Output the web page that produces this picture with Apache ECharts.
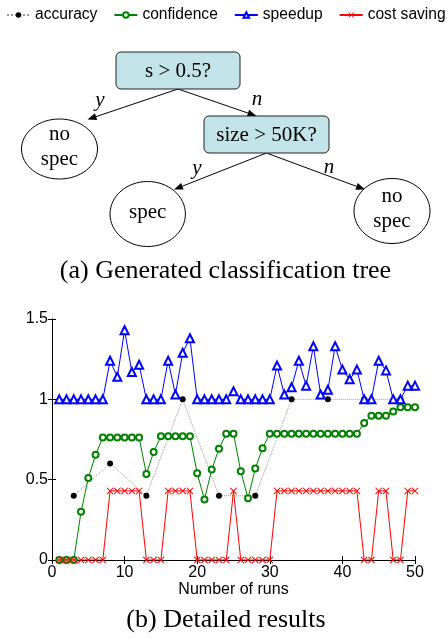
<!DOCTYPE html>
<html><head><meta charset="utf-8">
<script src="https://cdn.jsdelivr.net/npm/echarts@6/dist/echarts.min.js"></script>
<style>html,body{margin:0;padding:0;background:#fff}#c{width:447px;height:639px}</style>
</head><body><div id="c"></div>
<script>
// ---------- data ----------
const runs = Array.from({length: 50}, (_, i) => i + 1);
const speedup = [1,1,1,1,1,1,1, 1.24,1.14,1.43,1.17,1.215, 1,1,1, 1.24,1.03,1.29,1.38,
  1,1,1,1,1, 1.05, 1,1,1,1,1, 1.21,1.03,1.075,1.24,1.085,1.33,1.03,1.06,1.33,1.185,1.125,1.185,
  1,1, 1.24,1.18, 1,1, 1.085,1.085];
const confidence = [0,0,0, 0.30,0.51,0.655, 0.762,0.762,0.762,0.762,0.762,0.762, 0.535,0.672,
  0.77,0.77,0.77,0.77,0.77, 0.54,0.376,0.563,0.693,0.786,0.786,0.552,0.384,0.569,0.695,
  0.786,0.786,0.786,0.786,0.786,0.786,0.786,0.786,0.786,0.786,0.786,0.786,0.786,
  0.852,0.898,0.898,0.898,0.925,0.95,0.95,0.95];
const costSaving = [0,0,0,0,0,0,0, 0.43,0.43,0.43,0.43,0.43, 0,0,0, 0.43,0.43,0.43,0.43,
  0,0,0,0,0, 0.43, 0,0,0,0,0, 0.43,0.43,0.43,0.43,0.43,0.43,0.43,0.43,0.43,0.43,0.43,0.43,
  0,0, 0.43,0.43, 0,0, 0.43,0.43];
const accuracyRuns = [3,8,13,18,23,28,33,38,43,48];
const accuracy = [0.4,0.6,0.4,1.0,0.4,0.4,1.0,1.0,1.0,1.0];
const seriesNames = ['accuracy','confidence','speedup','cost saving'];
const xLabel = 'Number of runs';
const captionA = '(a) Generated classification tree';
const captionB = '(b) Detailed results';
// tree diagram content
const treeDecisions = ['s > 0.5?', 'size > 50K?'];
const treeLeaves = [['no','spec'], ['spec'], ['no','spec']];
const edgeLabels = ['y','n','y','n'];

// ---------- diagram layout ----------
const SERIF = '"Liberation Serif", "Times New Roman", serif';
const SANS = '"Liberation Sans", Arial, Helvetica, sans-serif';
const boxes = [
  {x: 116, y: 52, w: 124, h: 37},
  {x: 204, y: 116, w: 125, h: 37}
];
const ells = [
  {cx: 59.5, cy: 149, rx: 38, ry: 30},
  {cx: 147.7, cy: 214, rx: 37.7, ry: 32.5},
  {cx: 392, cy: 211, rx: 38, ry: 32.5}
];
const edges = [
  [178, 89, 87.5, 119.5], [178, 89, 256.5, 116],
  [266.5, 153, 174, 189.5], [266.5, 153, 365, 189.5]
];
const edgeLabelPos = [[100, 100], [257, 99], [197, 168], [329, 167]];

const g = [];
function arrow(x1, y1, x2, y2) {
  const dx = x2 - x1, dy = y2 - y1, L = Math.hypot(dx, dy);
  const ux = dx / L, uy = dy / L, hl = 9, hw = 3.5;
  const bx = x2 - ux * hl, by = y2 - uy * hl;
  g.push({type: 'line', shape: {x1, y1, x2: bx, y2: by}, style: {stroke: '#000', lineWidth: 1}});
  g.push({type: 'polygon', shape: {points: [[x2, y2], [bx - uy * hw, by + ux * hw], [bx + uy * hw, by - ux * hw]]},
    style: {fill: '#000'}});
}
edges.forEach(e => arrow(...e));
boxes.forEach((b, i) => {
  g.push({type: 'rect', shape: {x: b.x, y: b.y, width: b.w, height: b.h, r: 5},
    style: {fill: '#c2e3e7', stroke: '#222', lineWidth: 1}});
  g.push({type: 'text', style: {text: treeDecisions[i], x: b.x + b.w / 2, y: b.y + b.h / 2 + 1,
    textAlign: 'center', textVerticalAlign: 'middle', font: '21px ' + SERIF, fill: '#000'}});
});
ells.forEach((e, i) => {
  g.push({type: 'ellipse', shape: {cx: e.cx, cy: e.cy, rx: e.rx, ry: e.ry},
    style: {fill: '#fff', stroke: '#000', lineWidth: 1}});
  const lines = treeLeaves[i];
  const lh = 25;
  lines.forEach((t, k) => {
    g.push({type: 'text', style: {text: t, x: e.cx, y: e.cy + (k - (lines.length - 1) / 2) * lh - 2,
      textAlign: 'center', textVerticalAlign: 'middle', font: '21px ' + SERIF, fill: '#000'}});
  });
});
edgeLabels.forEach((t, i) => {
  g.push({type: 'text', style: {text: t, x: edgeLabelPos[i][0], y: edgeLabelPos[i][1],
    textAlign: 'center', textVerticalAlign: 'middle', font: 'italic 21px ' + SERIF, fill: '#000'}});
});
g.push({type: 'text', style: {text: captionA, x: 225.5, y: 271, textAlign: 'center', textVerticalAlign: 'middle',
  font: '26px ' + SERIF, fill: '#000'}});
g.push({type: 'text', style: {text: captionB, x: 226, y: 620, textAlign: 'center', textVerticalAlign: 'middle',
  font: '26px ' + SERIF, fill: '#000'}});

const xPath = 'path://M0,1L1,0L5,4L9,0L10,1L6,5L10,9L9,10L5,6L1,10L0,9L4,5Z';
const pairs = (xs, ys) => xs.map((x, i) => [x, ys[i]]);

const chart = echarts.init(document.getElementById('c'), null, {renderer: 'canvas'});
chart.setOption({
  animation: false,
  backgroundColor: '#fff',
  textStyle: {fontFamily: SANS},
  legend: {
    top: 7, left: 6, width: 441, padding: 0, itemWidth: 23, itemHeight: 7, itemGap: 16,
    textStyle: {fontSize: 15.6, color: '#000', fontFamily: SANS},
    data: seriesNames
  },
  grid: {left: 52, right: 32, top: 319, bottom: 79},
  xAxis: [{
    type: 'value', min: 0, max: 50, interval: 10, position: 'bottom',
    name: xLabel, nameLocation: 'middle', nameGap: 20,
    nameTextStyle: {fontSize: 16, color: '#000', fontFamily: SANS},
    axisLine: {show: true, lineStyle: {color: '#000', width: 1}},
    axisTick: {show: true, inside: true, length: 4, lineStyle: {color: '#000'}},
    axisLabel: {fontSize: 16, color: '#000', margin: 5, fontFamily: SANS},
    splitLine: {show: false}
  }, {
    type: 'value', min: 0, max: 50, interval: 10, position: 'top',
    axisLine: {show: true, lineStyle: {color: '#000', width: 1}},
    axisTick: {show: true, inside: true, length: 4, lineStyle: {color: '#000'}},
    axisLabel: {show: false}, splitLine: {show: false}
  }],
  yAxis: [{
    type: 'value', min: 0, max: 1.5, interval: 0.5, position: 'left',
    axisLine: {show: true, lineStyle: {color: '#000', width: 1}},
    axisTick: {show: true, inside: true, length: 4, lineStyle: {color: '#000'}},
    axisLabel: {fontSize: 16, color: '#000', margin: 4, fontFamily: SANS},
    splitLine: {show: false}
  }, {
    type: 'value', min: 0, max: 1.5, interval: 0.5, position: 'right',
    axisLine: {show: true, lineStyle: {color: '#000', width: 1}},
    axisTick: {show: true, inside: true, length: 4, lineStyle: {color: '#000'}},
    axisLabel: {show: false}, splitLine: {show: false}
  }],
  series: [{
    name: seriesNames[0], type: 'line', data: pairs(accuracyRuns, accuracy),
    symbol: 'circle', symbolSize: 6, itemStyle: {color: '#000'},
    lineStyle: {color: '#999', width: 1, type: 'dotted'}, z: 2
  }, {
    name: seriesNames[1], type: 'line', data: pairs(runs, confidence),
    symbol: 'emptyCircle', symbolSize: 6, itemStyle: {color: '#008000', borderColor: '#008000', borderWidth: 1},
    lineStyle: {color: '#008000', width: 1}, z: 3
  }, {
    name: seriesNames[2], type: 'line', data: pairs(runs, speedup),
    symbol: 'emptyTriangle', symbolSize: 8, itemStyle: {color: '#0000ff', borderColor: '#0000ff', borderWidth: 1},
    lineStyle: {color: '#0000ff', width: 1}, z: 4
  }, {
    name: seriesNames[3], type: 'line', data: pairs(runs, costSaving),
    symbol: xPath, symbolSize: 7, itemStyle: {color: '#ff0000', borderWidth: 0},
    lineStyle: {color: '#ff0000', width: 1}, z: 5
  }],
  graphic: g
});
</script></body></html>
